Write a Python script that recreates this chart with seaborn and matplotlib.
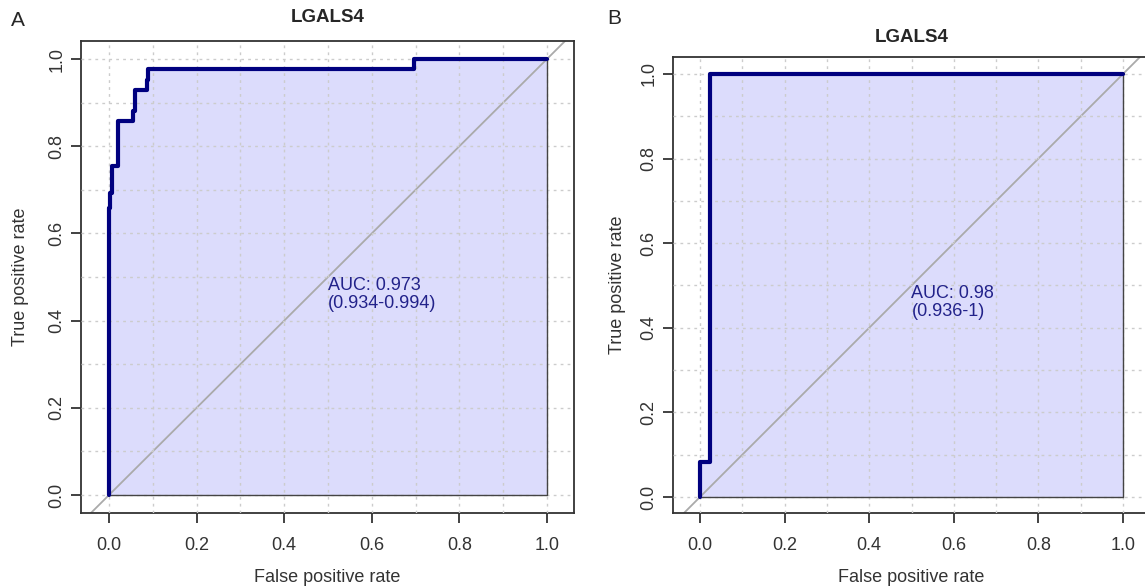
import numpy as np
import matplotlib
matplotlib.use("Agg")
import matplotlib.pyplot as plt
from matplotlib.ticker import MultipleLocator
import seaborn as sns

# ---- data ----
gene = "LGALS4"
panel_labels = ["A", "B"]

fpr_a = [0, 0, 0.002, 0.002, 0.006, 0.006, 0.007, 0.007, 0.021, 0.021, 0.055, 0.055,
         0.059, 0.059, 0.086, 0.086, 0.090, 0.090, 0.696, 0.696, 1.0]
tpr_a = [0, 0.658, 0.658, 0.693, 0.693, 0.716, 0.716, 0.755, 0.755, 0.857, 0.857, 0.881,
         0.881, 0.929, 0.929, 0.952, 0.952, 0.976, 0.976, 1.0, 1.0]
auc_a = ["AUC: 0.973", "(0.934-0.994)"]

fpr_b = [0, 0, 0.024, 0.024, 1.0]
tpr_b = [0, 0.083, 0.083, 1.0, 1.0]
auc_b = ["AUC: 0.98", "(0.936-1)"]

tick_vals = [0.0, 0.2, 0.4, 0.6, 0.8, 1.0]
tick_labels = ["0.0", "0.2", "0.4", "0.6", "0.8", "1.0"]

# ---- style ----
sns.set_style("ticks")
plt.rcParams["font.family"] = ["Liberation Sans", "DejaVu Sans"]

W, H = 1145, 588
fig = plt.figure(figsize=(W / 100, H / 100), dpi=100)

def px_axes(l, t, r, b):
    return fig.add_axes([l / W, 1 - b / H, (r - l) / W, (b - t) / H])

curve_col = "#00007F"
fill_col = "#DCDCFC"
text_col = "#22228A"
frame_col = "#333333"
fs = 13

def draw(ax, fpr, tpr, auc_txt, xlim, ylim):
    ax.set_xlim(*xlim)
    ax.set_ylim(*ylim)
    ax.fill_between(fpr, tpr, 0, facecolor=fill_col, edgecolor="none", zorder=1)
    ax.fill_between(fpr, tpr, 0, facecolor="none", edgecolor="#444444", linewidth=1.0, zorder=3)
    ax.axline((0, 0), (1, 1), color="#AAAAAA", lw=1.3, zorder=2)
    sns.lineplot(x=fpr, y=tpr, sort=False, estimator=None, color=curve_col, lw=3,
                 ax=ax, zorder=4)
    ax.text(0.5, 0.5, "\n".join(auc_txt), color=text_col, fontsize=fs, ha="left", va="top",
            linespacing=1.05, zorder=5)
    ax.set_xticks(tick_vals)
    ax.set_xticklabels(tick_labels)
    ax.set_yticks(tick_vals)
    ax.set_yticklabels(tick_labels, rotation=90, va="center")
    ax.xaxis.set_minor_locator(MultipleLocator(0.1))
    ax.yaxis.set_minor_locator(MultipleLocator(0.1))
    ax.set_axisbelow(False)
    ax.grid(True, which="both", color="#CCCCCC", lw=1.0, linestyle=(0, (2, 3)), zorder=2.5)
    ax.tick_params(which="minor", length=0)
    ax.tick_params(axis="x", which="major", length=7, width=1.3, color=frame_col,
                   labelsize=fs, labelcolor="#333333", pad=10)
    ax.tick_params(axis="y", which="major", length=7, width=1.3, color=frame_col,
                   labelsize=fs, labelcolor="#333333", pad=4)
    for s in ax.spines.values():
        s.set_visible(True)
        s.set_color(frame_col)
        s.set_linewidth(1.3)
    ax.set_xlabel("")
    ax.set_ylabel("")

# panel A: x=0 at px 109, x=1 at 547; y=0 at 495, y=1 at 59
axA = px_axes(81, 41, 574, 513)
draw(axA, fpr_a, tpr_a, auc_a,
     ((81 - 109) / 438, (574 - 109) / 438), ((495 - 513) / 436, (495 - 41) / 436))
# panel B: x=0 at px 700, x=1 at 1123; y=0 at 497, y=1 at 74
axB = px_axes(673, 57, 1150, 513)
draw(axB, fpr_b, tpr_b, auc_b,
     ((673 - 700) / 423, (1150 - 700) / 423), ((497 - 513) / 423, (497 - 57) / 423))

# titles and labels
fig.text(327.5 / W, 1 - 17 / H, gene, ha="center", va="center", fontsize=13.5, fontweight="bold")
fig.text(911.5 / W, 1 - 37 / H, gene, ha="center", va="center", fontsize=13.5, fontweight="bold")
fig.text(327.5 / W, 1 - 577 / H, "False positive rate", ha="center", va="center", fontsize=fs, color="#333333")
fig.text(911.5 / W, 1 - 577 / H, "False positive rate", ha="center", va="center", fontsize=fs, color="#333333")
fig.text(21 / W, 1 - 277 / H, "True positive rate", ha="center", va="center", rotation=90, fontsize=fs, color="#333333")
fig.text(618 / W, 1 - 285 / H, "True positive rate", ha="center", va="center", rotation=90, fontsize=fs, color="#333333")
fig.text(18 / W, 1 - 20 / H, panel_labels[0], ha="center", va="center", fontsize=15)
fig.text(614 / W, 1 - 18 / H, panel_labels[1], ha="center", va="center", fontsize=15)

fig.savefig("out.png", dpi=100)
